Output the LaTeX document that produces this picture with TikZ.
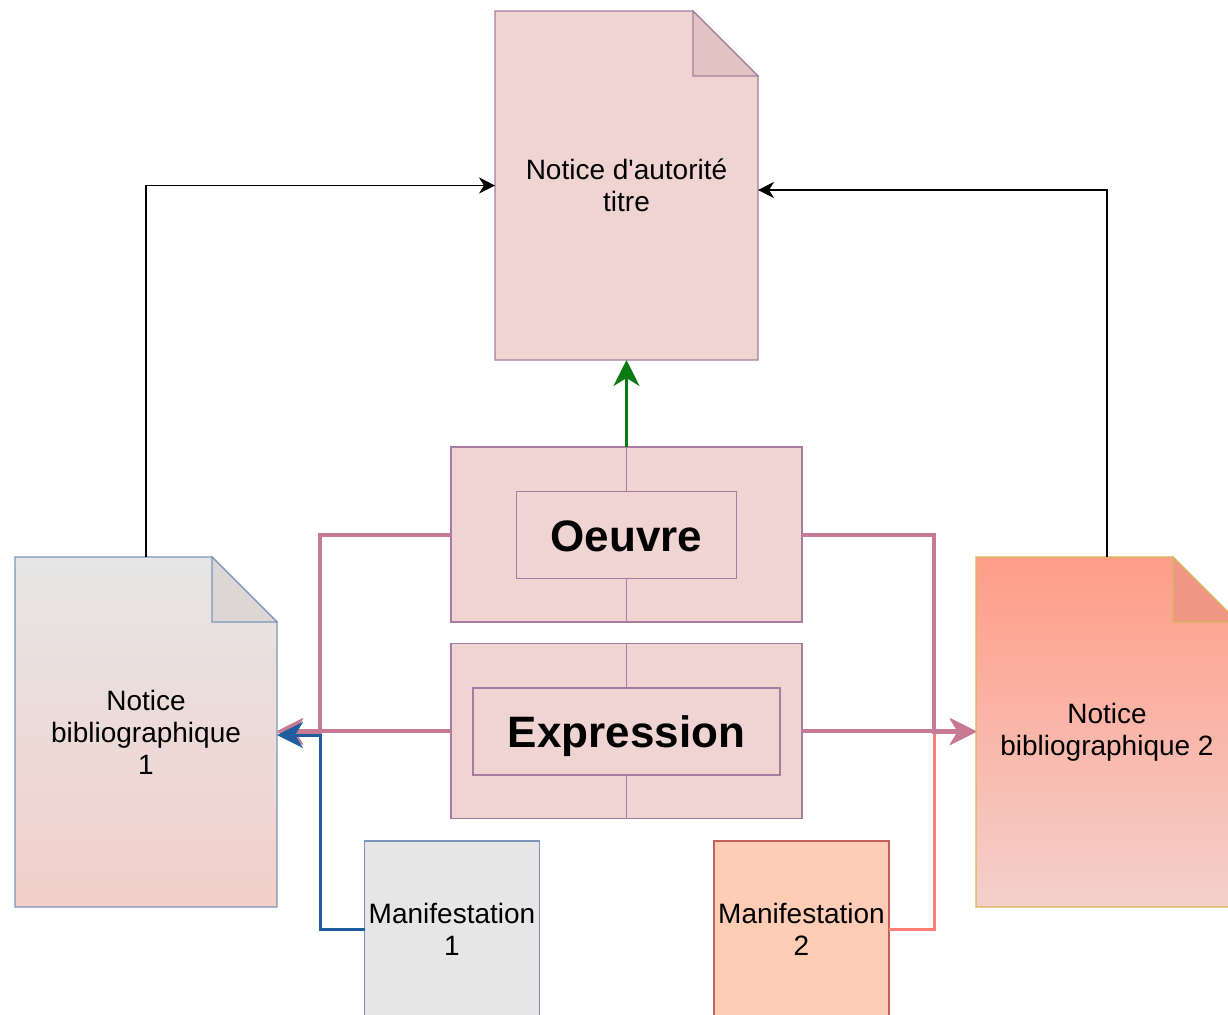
\documentclass[tikz,border=0pt]{standalone}
\usepackage{fontspec}
\setmainfont{Liberation Sans}
\usetikzlibrary{calc,arrows.meta,backgrounds}
\definecolor{rosefill}{HTML}{F0D4D2}
\definecolor{rosefold}{HTML}{E3C4C2}
\definecolor{mauve}{HTML}{A87CA0}
\definecolor{greyfill}{HTML}{E6E6E6}
\definecolor{greyfold}{HTML}{DCD7D5}
\definecolor{bluegrey}{HTML}{7D95B8}
\definecolor{blushfill}{HTML}{F2CFCA}
\definecolor{salmontop}{HTML}{FF9D87}
\definecolor{salmonfold}{HTML}{EE9783}
\definecolor{salmonbot}{HTML}{F4D0CC}
\definecolor{gold}{HTML}{D9B65A}
\definecolor{peachfill}{HTML}{FFCCB6}
\definecolor{brick}{HTML}{C4605A}
\definecolor{linkpink}{HTML}{C77A93}
\definecolor{linkblue}{HTML}{1F5E9E}
\definecolor{linksalmon}{HTML}{FF7E76}
\definecolor{linkgreen}{HTML}{0B7A12}
\def\dogear[#1][#2](#3)(#4){%
  \path[#1] (#3.north west) -- ($(#3.north east)+(-#4,0)$) -- ($(#3.north east)+(0,#4)$) -- (#3.south east) -- (#3.south west) -- cycle;
  \path[#2] ($(#3.north east)+(-#4,0)$) -- ($(#3.north east)+(-#4,#4)$) -- ($(#3.north east)+(0,#4)$) -- cycle;}
\tikzset{
  notice/.style={minimum width=131pt, minimum height=175pt, outer sep=0pt, inner sep=2pt, align=center, font=\fontsize{14}{16}\selectfont},
  frame/.style={draw=mauve, fill=rosefill, line width=0.6pt, outer sep=0pt},
  entity/.style={frame, minimum width=175.5pt, minimum height=87.5pt},
  tagbox/.style={frame, minimum height=43.5pt, text height=16pt, text depth=0pt, font=\fontsize{22}{26}\selectfont\bfseries},
  manif/.style={minimum width=87.5pt, minimum height=88pt, inner sep=1pt, line width=0.6pt, outer sep=0pt, align=center, font=\fontsize{14}{16}\selectfont},
  link/.style={line width=1.5pt, -{Stealth[length=13pt,width=13pt,inset=4pt]}},
  ref/.style={line width=0.6pt, -{Stealth[length=8pt,width=8pt,inset=2.5pt]}},
}

\begin{document}
\begin{tikzpicture}[x=0.5pt,y=-0.5pt]
	%%%%% START %%%%%
	\useasboundingbox (0,0) rectangle (1228,1014);
	
	\node[notice, minimum width=131.5pt, minimum height=174.5pt] (auth) at (626.5,185.5) {Notice d\textquotesingle autorité\\titre};
	\node[notice] (bib1) at (146,732) {Notice\\bibliographique\\1};
	\node[notice] (bib2) at (1107,732) {Notice\\bibliographique 2};
	
	\begin{scope}[on background layer]
		\dogear[draw=mauve, fill=rosefill, line width=0.6pt][draw=mauve, fill=rosefold, line width=0.6pt](auth)(65)
		\dogear[draw=bluegrey, top color=greyfill, bottom color=blushfill, line width=0.6pt][draw=bluegrey, fill=greyfold, line width=0.6pt](bib1)(65)
		\dogear[draw=gold, top color=salmontop, bottom color=salmonbot, line width=0.6pt][draw=gold, fill=salmonfold, line width=0.6pt](bib2)(65)
	\end{scope}
	
	\node[entity] (oeuvre) at (626.5,534.5) {};
	\node[tagbox, minimum width=110pt] (oeuvreIn) at (626.5,535) {Oeuvre};
	\draw[mauve, line width=0.6pt] (oeuvre.north) -- (oeuvreIn.north) (oeuvreIn.south) -- (oeuvre.south);
	
	\node[entity] (expr) at (626.5,731) {};
	\node[tagbox, minimum width=153.5pt] (exprIn) at (626.5,731.5) {Expression};
	\draw[mauve, line width=0.6pt] (expr.north) -- (exprIn.north) (exprIn.south) -- (expr.south);
	
	\node[manif, draw=bluegrey, fill=greyfill] (man1) at (452,929) {Manifestation\\1};
	\node[manif, draw=brick, fill=peachfill] (man2) at (801.5,929) {Manifestation\\2};
	
	\draw[ref] (bib1.north) |- (auth.west);
	\draw[ref] (bib2.north) |- ($(auth.east)+(0,4.5)$);
	\draw[link, linkgreen] (oeuvre.north) -- (auth.south);
	
	\draw[link, linksalmon] (man2.east) -- ++(45,0) |- (bib2.west);
	\draw[link, linkpink, line width=2pt] (oeuvre.east) -- ++(132,0) |- (bib2.west);
	\draw[link, linkpink, line width=2pt] (expr.east) -- (expr.east -| bib2.west);
	
	\draw[link, linkpink, line width=2pt] (oeuvre.west) -- ++(-131,0) |- (bib1.east);
	\draw[link, linkpink, line width=2pt] (expr.west) -- (expr.west -| bib1.east);
	\draw[link, linkblue] (man1.west) -- ++(-44,0) |- ($(bib1.east)+(0,3)$);
	
	%%%%% END %%%%%
\end{tikzpicture}
\end{document}
